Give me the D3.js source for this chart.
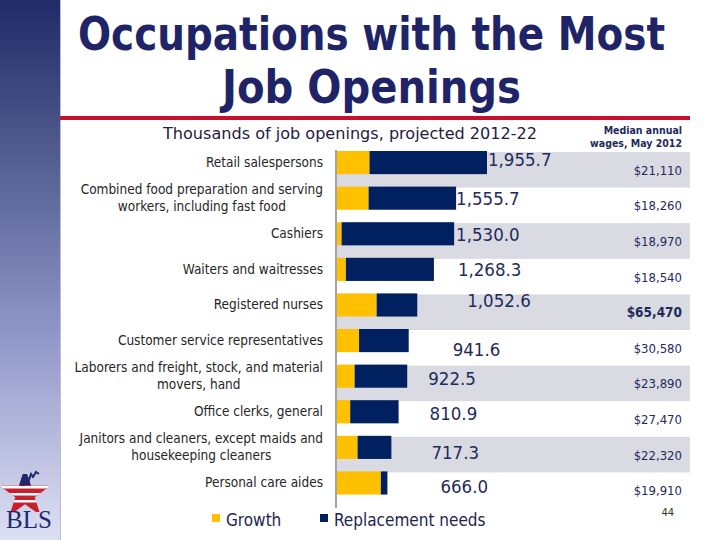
<!DOCTYPE html>
<html><head><meta charset="utf-8">
<script src="https://cdn.jsdelivr.net/npm/d3@7"></script>
<style>html,body{margin:0;padding:0;background:#fff;}svg{display:block;}</style>
</head><body>
<svg id="c" width="720" height="540"></svg>
<script>
const categories = [
  ["Retail salespersons"],
  ["Combined food preparation and serving", "workers, including fast food"],
  ["Cashiers"],
  ["Waiters and waitresses"],
  ["Registered nurses"],
  ["Customer service representatives"],
  ["Laborers and freight, stock, and material", "movers, hand"],
  ["Office clerks, general"],
  ["Janitors and cleaners, except maids and", "housekeeping cleaners"],
  ["Personal care aides"]
];
const growth      = [434.7, 421.9, 73.0, 128.0, 526.8, 298.7, 241.9, 184.1, 280.0, 580.8];
const replacement = [1521.0, 1133.8, 1457.0, 1140.3, 525.8, 642.9, 680.6, 626.8, 437.3, 85.2];
const totals      = [1955.7, 1555.7, 1530.0, 1268.3, 1052.6, 941.6, 922.5, 810.9, 717.3, 666.0];
const wages       = [21110, 18260, 18970, 18540, 65470, 30580, 23890, 27470, 22320, 19910];
const seriesNames = ["Growth", "Replacement needs"];
const titleLines  = ["Occupations with the Most", "Job Openings"];

// label nudges (style only, px offsets from the bar end)
const labelDx = [1, 0, 2, 24, 50, 44, 21, 31, 40, 53];
const labelDy = [-3, 0, 1, 0, -4, 9, 2, 2, 5, 4];

const NAVY = "#002060", GOLD = "#FFC000", TXT = "#1F2A5C";
const FONT = "'DejaVu Sans Condensed','DejaVu Sans',sans-serif";
const svg = d3.select("#c");
const defs = svg.append("defs");
const grad = defs.append("linearGradient").attr("id","strip").attr("x1",0).attr("y1",0).attr("x2",0).attr("y2",1);
grad.append("stop").attr("offset","0%").attr("stop-color","#222A68");
grad.append("stop").attr("offset","25%").attr("stop-color","#4C5689");
grad.append("stop").attr("offset","60%").attr("stop-color","#8C93C5");
grad.append("stop").attr("offset","100%").attr("stop-color","#DDE0F3");
svg.append("rect").attr("x",0).attr("y",0).attr("width",60).attr("height",540).attr("fill","url(#strip)");
svg.append("line").attr("x1",60.5).attr("x2",60.5).attr("y1",0).attr("y2",540).attr("stroke","#B8BCD8").attr("stroke-width",1);

// title
svg.selectAll("text.title").data(titleLines).join("text").attr("class","title")
  .attr("x", 371.5).attr("y",(d,i)=> i===0 ? 50 : 103)
  .attr("text-anchor","middle")
  .attr("font-family",FONT)
  .attr("font-weight","bold").attr("font-size",47)
  .attr("fill","#1F2468")
  .attr("textLength",(d,i)=> i===0 ? 587 : 299)
  .attr("lengthAdjust","spacingAndGlyphs")
  .text(d=>d);
svg.append("rect").attr("x",60).attr("y",116).attr("width",630).attr("height",4).attr("fill","#C8102E");

// subtitle
svg.append("text").attr("x",350).attr("y",139).attr("text-anchor","middle")
  .attr("font-family",FONT).attr("font-size",16.5)
  .attr("textLength",374).attr("lengthAdjust","spacingAndGlyphs")
  .attr("fill","#1F2040").text("Thousands of job openings, projected 2012-22");

// wages header
["Median annual","wages, May 2012"].forEach((t,i)=>{
  svg.append("text").attr("x",682).attr("y",134+i*13).attr("text-anchor","end")
   .attr("font-family",FONT).attr("font-weight","bold")
   .attr("font-size",10.5).attr("fill",TXT).text(t);
});

const idx = d3.range(categories.length);
const y = d3.scaleBand().domain(idx).range([152, 508]).padding(0);
const x = d3.scaleLinear().domain([0, 2000]).range([336, 490.4]);

// grey bands
svg.append("g").selectAll("rect").data(idx.filter(i=>i%2===0)).join("rect")
  .attr("x", x(0)).attr("width", 690 - x(0))
  .attr("y", i=>y(i)).attr("height", y.bandwidth())
  .attr("fill","#D9DAE2");

const barH = y.bandwidth()*0.65;
const barY = i => y(i) - 1;

// stacked bars
const stackData = idx.map(i=>({i, g: growth[i], r: replacement[i]}));
const stack = d3.stack().keys(["g","r"])(stackData);
const colors = [GOLD, NAVY];
svg.append("g").selectAll("g").data(stack).join("g").attr("fill",(d,k)=>colors[k])
  .selectAll("rect").data(d=>d).join("rect")
  .attr("x", d=>x(d[0])).attr("width", d=>x(d[1])-x(d[0]))
  .attr("y", d=>barY(d.data.i)).attr("height", barH);

// axis line
svg.append("line").attr("x1",x(0)).attr("x2",x(0)).attr("y1",150).attr("y2",508)
  .attr("stroke","#A3A3A8").attr("stroke-width",2);

// category labels
const fmt = d3.format(",.1f");
idx.forEach(i=>{
  const lines = categories[i];
  const cy = barY(i) + barH/2;
  const g = svg.append("g");
  const ts = lines.map((t,j)=> g.append("text")
      .attr("y", cy + (j - (lines.length-1)/2)*17 + 4.5)
      .attr("font-family",FONT).attr("font-size",13.5)
      .attr("fill","#262626").text(t));
  const w = d3.max(ts, t=>t.node().getComputedTextLength());
  ts.forEach(t=> t.attr("text-anchor","middle").attr("x", 323 - w/2));
  // total label
  svg.append("text").attr("x", x(totals[i]) + labelDx[i])
    .attr("y", cy + labelDy[i] + 6.5)
    .attr("font-family",FONT).attr("font-size",18.5)
    .attr("fill",TXT).text(fmt(totals[i]));
  // wages
  svg.append("text").attr("x",682).attr("y", y(i)+y.bandwidth()/2 + 5)
    .attr("text-anchor","end")
    .attr("font-family",FONT)
    .attr("font-size", wages[i] > 60000 ? 13.5 : 13)
    .attr("font-weight", wages[i] > 60000 ? "bold" : "normal")
    .attr("fill",TXT).text(d3.format("$,")(wages[i]));
});

// legend
const legX = [212, 320];
seriesNames.forEach((n,k)=>{
  svg.append("rect").attr("x",legX[k]).attr("y",514).attr("width",8).attr("height",8).attr("fill",colors[k]);
  svg.append("text").attr("x",legX[k]+14).attr("y",526)
    .attr("font-family",FONT).attr("font-size",17)
    .attr("fill","#1B2550").text(n);
});

// page number
svg.append("text").attr("x",674).attr("y",516).attr("text-anchor","end")
  .attr("font-family",FONT).attr("font-size",11)
  .attr("fill","#333").text("44");

// BLS logo
const logo = svg.append("g");
const star = d3.symbol().type(d3.symbolStar).size(800)();
defs.append("clipPath").attr("id","starclip").append("path").attr("d",star).attr("transform","translate(25,494)");
const st = logo.append("g").attr("clip-path","url(#starclip)");
st.append("rect").attr("x",2).attr("y",476).attr("width",46).attr("height",36).attr("fill","#C8202E");
[486, 493, 500].forEach(yy=> st.append("rect").attr("x",2).attr("y",yy).attr("width",46).attr("height",2.5).attr("fill","#fff"));
st.append("rect").attr("x",2).attr("y",474).attr("width",46).attr("height",11).attr("fill","#1F2A6B");
logo.append("path").attr("d","M22,486 L26,478 L29,480 L31,474 L33,477 L36,472 L39,474")
  .attr("fill","none").attr("stroke","#1F2A6B").attr("stroke-width",2);
logo.append("text").attr("x",29).attr("y",528).attr("text-anchor","middle")
  .attr("font-family","'Liberation Serif','DejaVu Serif',serif").attr("font-size",25)
  .attr("fill","#1F2A6B").text("BLS");
</script>
</body></html>
